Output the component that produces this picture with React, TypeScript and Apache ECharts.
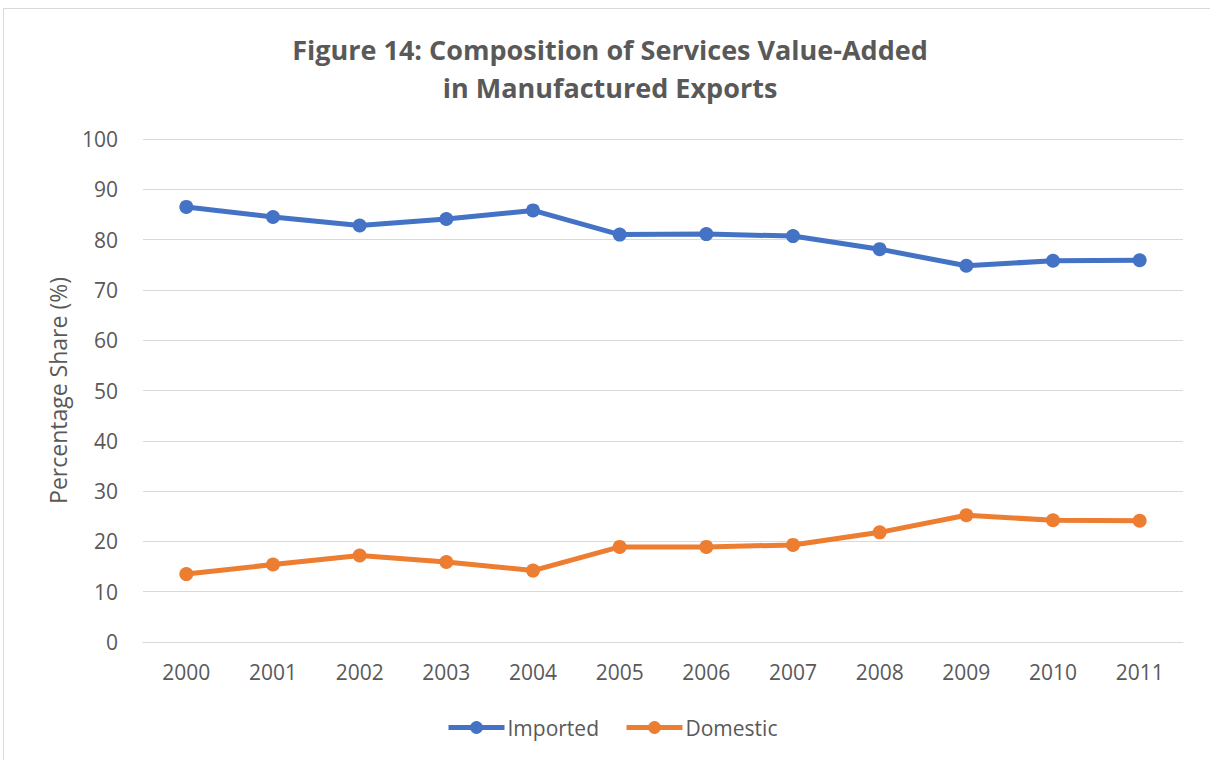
import React, { useEffect, useRef } from "react";
import * as echarts from "echarts";

const years = ["2000", "2001", "2002", "2003", "2004", "2005", "2006", "2007", "2008", "2009", "2010", "2011"];
const imported = [86.5, 84.5, 82.8, 84.1, 85.8, 81.0, 81.1, 80.7, 78.1, 74.8, 75.8, 75.9];
const domestic = [13.5, 15.4, 17.2, 15.9, 14.2, 18.9, 18.9, 19.3, 21.8, 25.2, 24.2, 24.1];
const titleLines = ["Figure 14: Composition of Services Value-Added", "in Manufactured Exports"];
const yAxisName = "Percentage Share (%)";

const FONT = "'Open Sans', 'Noto Sans', sans-serif";
const TEXT = "#595959";

export default function App() {
  const ref = useRef<HTMLDivElement>(null);
  useEffect(() => {
    if (!ref.current) return;
    const chart = echarts.init(ref.current, null, { renderer: "svg" });
    const mk = (name: string, data: number[], color: string) => ({
      name,
      type: "line",
      data,
      symbol: "circle",
      symbolSize: 14,
      itemStyle: { color },
      lineStyle: { color, width: 5 },
    });
    chart.setOption({
      animation: false,
      backgroundColor: "#ffffff",
      textStyle: { fontFamily: FONT },
      title: {
        text: titleLines.join("\n"),
        left: 605,
        textAlign: "center",
        top: 25,
        textStyle: { fontFamily: FONT, fontWeight: "bold", fontSize: 27, color: TEXT, lineHeight: 38 },
      },
      graphic: [
        {
          type: "rect",
          shape: { x: 3.5, y: 8.5, width: 1240, height: 800 },
          style: { fill: "none", stroke: "#d9d9d9", lineWidth: 1 },
          silent: true,
        },
      ],
      legend: {
        bottom: 17,
        left: 441,
        itemWidth: 56,
        itemHeight: 16,
        itemGap: 25,
        lineStyle: { width: 5 },
        textStyle: { fontFamily: FONT, fontSize: 21, color: TEXT, padding: [0, 0, 0, -2] },
        data: ["Imported", "Domestic"],
      },
      grid: { left: 143, right: 27, top: 139, bottom: 118, containLabel: false },
      xAxis: {
        type: "category",
        data: years,
        boundaryGap: true,
        axisLine: { lineStyle: { color: "#d9d9d9", width: 1 } },
        axisTick: { show: false },
        axisLabel: { fontFamily: FONT, fontSize: 21, color: TEXT, margin: 19 },
      },
      yAxis: {
        type: "value",
        min: 0,
        max: 100,
        interval: 10,
        name: yAxisName,
        nameLocation: "middle",
        nameGap: 74,
        nameTextStyle: { fontFamily: FONT, fontSize: 23, color: TEXT },
        axisLine: { show: false },
        axisTick: { show: false },
        splitLine: { lineStyle: { color: "#d9d9d9", width: 1 } },
        axisLabel: { fontFamily: FONT, fontSize: 21, color: TEXT, margin: 25 },
      },
      series: [mk("Imported", imported, "#4472C4"), mk("Domestic", domestic, "#ED7D31")],
    });
    return () => chart.dispose();
  }, []);
  return (
    <div
      ref={ref}
      style={{ position: "fixed", left: 0, top: 0, width: 1210, height: 760 }}
    />
  );
}
